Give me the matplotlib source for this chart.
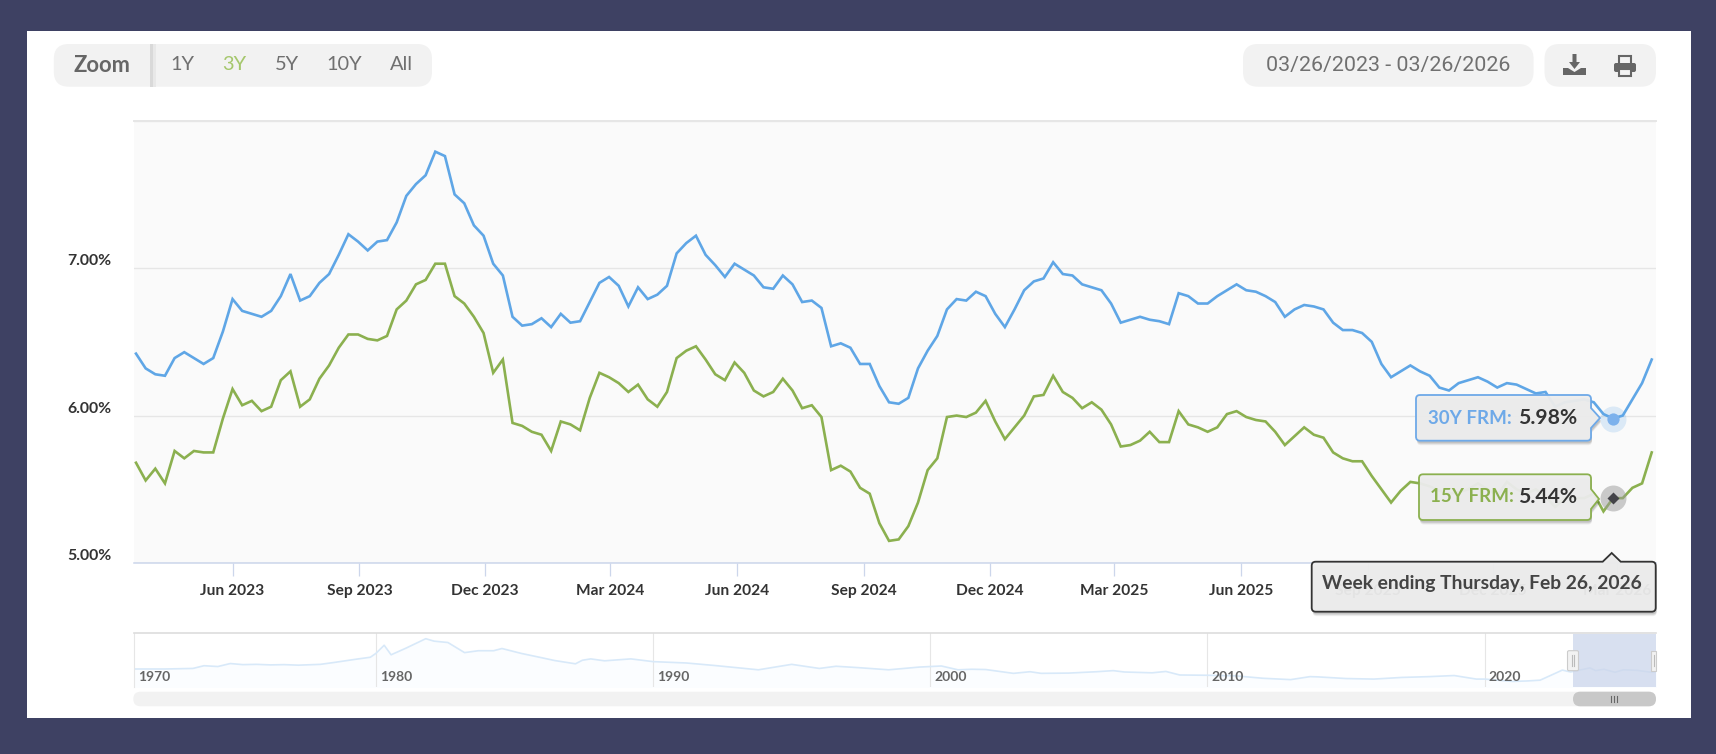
import numpy as np
import pandas as pd
import matplotlib
matplotlib.use("Agg")
import matplotlib.pyplot as plt
from matplotlib.path import Path
from matplotlib.patches import PathPatch, Rectangle, FancyBboxPatch, Polygon

# ---------- data ----------
frm30 = [6.42,6.32,6.28,6.27,6.39,6.43,6.39,6.35,6.39,6.57,6.79,6.71,6.69,6.67,6.71,6.81,6.96,6.78,6.81,6.90,6.96,7.09,7.23,7.18,7.12,7.18,7.19,
         7.31,7.49,7.57,7.63,7.79,7.76,7.50,7.44,7.29,7.22,7.03,6.95,6.67,6.61,6.62,6.66,6.60,6.69,6.63,6.64,6.77,6.90,6.94,6.88,6.74,6.87,
         6.79,6.82,6.88,7.10,7.17,7.22,7.09,7.02,6.94,7.03,6.99,6.95,6.87,6.86,6.95,6.89,6.77,6.78,6.73,6.47,6.49,6.46,6.35,6.35,6.20,6.09,6.08,
         6.12,6.32,6.44,6.54,6.72,6.79,6.78,6.84,6.81,6.69,6.60,6.72,6.85,6.91,6.93,7.04,6.96,6.95,6.89,6.87,6.85,6.76,6.63,6.65,6.67,6.65,
         6.64,6.62,6.83,6.81,6.76,6.76,6.81,6.85,6.89,6.85,6.84,6.81,6.77,6.67,6.72,6.75,6.74,6.72,6.63,6.58,6.58,6.56,6.50,6.35,6.26,6.30,6.34,
         6.30,6.27,6.19,6.17,6.22,6.24,6.26,6.23,6.19,6.22,6.21,6.18,6.15,6.16,6.06,6.09,6.10,6.11,6.09,6.01,5.98,6.00,6.11,6.22,6.38]
frm15 = [5.68,5.56,5.64,5.54,5.76,5.71,5.76,5.75,5.75,5.98,6.18,6.07,6.10,6.03,6.06,6.24,6.30,6.06,6.11,6.25,6.34,6.46,6.55,6.55,6.52,6.51,6.54,
         6.72,6.78,6.89,6.92,7.03,7.03,6.81,6.76,6.67,6.56,6.29,6.38,5.95,5.93,5.89,5.87,5.76,5.96,5.94,5.90,6.12,6.29,6.26,6.22,6.16,6.21,
         6.11,6.06,6.16,6.39,6.44,6.47,6.38,6.28,6.24,6.36,6.29,6.17,6.13,6.16,6.25,6.17,6.05,6.07,5.99,5.63,5.66,5.62,5.51,5.47,5.27,5.15,5.16,
         5.25,5.41,5.63,5.71,5.99,6.00,5.99,6.02,6.10,5.96,5.84,5.92,6.00,6.13,6.14,6.27,6.16,6.12,6.05,6.09,6.04,5.94,5.79,5.80,5.83,5.89,
         5.82,5.82,6.03,5.94,5.92,5.89,5.92,6.01,6.03,5.99,5.97,5.96,5.89,5.80,5.86,5.92,5.87,5.85,5.75,5.71,5.69,5.69,5.59,5.50,5.41,5.49,5.55,
         5.54,5.52,5.49,5.47,5.48,5.50,5.54,5.50,5.46,5.55,5.50,5.47,5.50,5.45,5.38,5.44,5.44,5.44,5.47,5.35,5.44,5.44,5.51,5.54,5.75]
weeks = pd.date_range("2023-03-23", periods=len(frm30), freq="7D")
hover_date = pd.Timestamp("2026-02-26")
x_tick_dates = pd.to_datetime(["2023-06-01","2023-09-01","2023-12-01","2024-03-01","2024-06-01","2024-09-01",
                               "2024-12-01","2025-03-01","2025-06-01","2025-09-01","2025-12-01","2026-03-01"])
x_tick_labels = ["Jun 2023","Sep 2023","Dec 2023","Mar 2024","Jun 2024","Sep 2024",
                 "Dec 2024","Mar 2025","Jun 2025","Sep 2025","Dec 2025","Mar 2026"]
y_ticks = [5, 6, 7, 8]
y_tick_labels = ["5.00%", "6.00%", "7.00%", ""]

nav_years = [1971.3,1972.4,1973.4,1973.8,1974.3,1974.75,1975.2,1975.7,1976.2,1976.7,1977.2,1978,1978.5,1979.3,1979.8,
             1980,1980.3,1980.55,1981.1,1981.8,1982.1,1982.6,1983.2,1983.7,1984.25,1984.55,1985.25,1985.95,1986.45,
             1987.2,1987.45,1987.75,1988.25,1989.2,1990,1991.2,1992.2,1993.8,1995,1996,1996.6,1997.4,1998.5,1999.6,
             2000.4,2001,2001.5,2002,2003,2003.6,2004,2005,2006,2006.6,2007,2008,2008.5,2009,2010,2011,2012,2013,
             2013.7,2014,2015,2016,2017,2018,2018.9,2019.7,2020,2021,2021.5,2022,2022.5,2022.8,2023.1,2023.8,2024,
             2024.3,2024.7,2025,2025.5,2026,2026.2]
nav_rates = [7.3,7.3,7.5,8.5,8.2,9.3,8.9,9.0,8.8,8.9,8.7,9.0,9.7,10.9,11.6,
             13,16,12.5,15,18.4,17.5,17,13.3,14,14,14.8,13,11.5,10.4,
             9.2,10.5,11,10.3,11,10,9.5,8.6,7,9,7.5,8.3,7.8,7,8,
             8.4,7,7.2,7.1,5.7,6.3,5.7,5.8,6.3,6.7,6.2,5.9,6.4,5.1,5.0,4.8,3.9,3.4,
             4.5,4.4,3.8,3.6,4.2,4.5,4.9,3.6,3.6,2.75,2.9,3.2,5.5,6.9,6.2,7.7,6.7,
             7.2,6.1,7,6.8,6.1,6.3]
nav_ticks = [1980, 1990, 2000, 2010, 2020]
nav_labels = ["1970", "1980", "1990", "2000", "2010", "2020"]
zoom_labels = ["1Y", "3Y", "5Y", "10Y", "All"]

# ---------- style ----------
W, H = 1716, 754
BG = "#3e4163"
BLUE = "#5fa6e6"
GREEN = "#8bb04f"
FONT = ["Lato", "DejaVu Sans"]
plt.rcParams["font.family"] = FONT


def axes_box(x0, y0, x1, y1):
    return [x0 / W, 1 - y1 / H, (x1 - x0) / W, (y1 - y0) / H]


fig = plt.figure(figsize=(W / 100, H / 100), dpi=100, facecolor=BG)

# background panel
bg = fig.add_axes([0, 0, 1, 1], zorder=0)
bg.set_xlim(0, W); bg.set_ylim(H, 0); bg.axis("off")
bg.add_patch(Rectangle((26.5, 31), 1664.5, 687, fc="white", ec="none"))

# ---------- main chart ----------
ax = fig.add_axes(axes_box(134.4, 120.7, 1656, 563), zorder=1, facecolor="#fafafa")
ax.plot(weeks, frm30, color=BLUE, lw=1.9, solid_joinstyle="miter", zorder=3)
ax.plot(weeks, frm15, color=GREEN, lw=1.9, solid_joinstyle="miter", zorder=3)
ax.set_xlim(weeks[0] - pd.Timedelta(days=1.16), weeks[-1] + pd.Timedelta(days=3.1))
ax.set_ylim(5, 8)
for s in ("left", "right"):
    ax.spines[s].set_visible(False)
ax.spines["top"].set_color("#e6e6e6"); ax.spines["top"].set_linewidth(1.4)
ax.spines["bottom"].set_color("#ccd6eb"); ax.spines["bottom"].set_linewidth(1.1)
ax.set_yticks(y_ticks, y_tick_labels)
ax.grid(axis="y", color="#e6e6e6", lw=1.0, zorder=1)
ax.tick_params(axis="y", length=0, pad=48.5, labelsize=11.4, labelcolor="#333333")
for lab in ax.get_yticklabels():
    lab.set_ha("left"); lab.set_va("bottom"); lab.set_fontweight("bold")
ax.set_xticks(x_tick_dates, x_tick_labels)
ax.tick_params(axis="x", length=9.2, width=0.9, color="#ccd6eb", pad=6.2, labelsize=11.2, labelcolor="#333333")
for lab in ax.get_xticklabels():
    lab.set_fontweight("bold")

# hover markers
ih = list(weeks).index(hover_date)
ax.plot([weeks[ih]], [frm30[ih]], "o", ms=18.7, mfc=BLUE, mec="none", alpha=0.2, zorder=4, clip_on=False)
ax.plot([weeks[ih]], [frm30[ih]], "o", ms=8.8, mfc="#7cb1ec", mec="none", zorder=5)
ax.plot([weeks[ih]], [frm15[ih]], "o", ms=18.7, mfc="#9a9a9a", mec="none", alpha=0.5, zorder=4)
ax.plot([weeks[ih]], [frm15[ih]], "D", ms=6.4, mfc="#434348", mec="none", zorder=5)

# ---------- navigator ----------
nav = fig.add_axes(axes_box(134.4, 632.7, 1656, 687), zorder=1, facecolor="white")
nav.fill_between(nav_years, nav_rates, 0, color="#fbfdff", lw=0, zorder=1)
nav.plot(nav_years, nav_rates, color="#d8e9f9", lw=1.2, zorder=2)
nav.set_xlim(1971.29, 2026.18)
nav.set_ylim(0.7, 20.6)
for s in ("right", "bottom"):
    nav.spines[s].set_visible(False)
nav.spines["top"].set_color("#dddddd"); nav.spines["top"].set_linewidth(1.2)
nav.spines["left"].set_color("#e6e6e6"); nav.spines["left"].set_linewidth(0.8)
nav.set_xticks(nav_ticks); nav.set_yticks([])
nav.set_xticklabels([])
nav.grid(axis="x", color="#e6e6e6", lw=0.8, zorder=0)
nav.tick_params(length=0)
for yr, label in zip([1971.29] + nav_ticks, nav_labels):
    nav.annotate(label, (yr, 0), xycoords=("data", "axes fraction"), xytext=(3.0, 3), textcoords="offset points",
                 fontsize=10, color="#666666", fontweight="bold", va="bottom", ha="left", zorder=6)

# ---------- overlay furniture ----------
ov = fig.add_axes([0, 0, 1, 1], zorder=5)
ov.set_xlim(0, W); ov.set_ylim(H, 0); ov.axis("off"); ov.patch.set_alpha(0)


def pill(x0, y0, x1, y1, r, fc, ec="none", lw=0, z=2, alpha=None):
    ov.add_patch(FancyBboxPatch((x0 + r, y0 + r), x1 - x0 - 2 * r, y1 - y0 - 2 * r,
                                boxstyle=f"round,pad={r},rounding_size={r}", fc=fc, ec=ec, lw=lw, zorder=z,
                                alpha=alpha, mutation_aspect=1))


def callout(x0, y0, x1, y1, r, tail, side):
    """Rounded box with a small pointer on its right or top side."""
    c3 = Path.CURVE3
    v = [(x0 + r, y0)]; k = [Path.MOVETO]
    if side == "top":
        tx, ty = tail
        v += [(tx - 9, y0), (tx, ty), (tx + 9, y0)]; k += [Path.LINETO] * 3
    v += [(x1 - r, y0), (x1, y0), (x1, y0 + r)]; k += [Path.LINETO, c3, c3]
    if side == "right":
        tx, ty = tail
        v += [(x1, ty - 10), (tx, ty), (x1, ty + 10)]; k += [Path.LINETO] * 3
    v += [(x1, y1 - r), (x1, y1), (x1 - r, y1), (x0 + r, y1), (x0, y1), (x0, y1 - r),
          (x0, y0 + r), (x0, y0), (x0 + r, y0)]
    k += [Path.LINETO, c3, c3, Path.LINETO, c3, c3, Path.LINETO, c3, c3]
    return Path(v, k)


def bubble(x0, y0, x1, y1, tail, side, edge):
    p = callout(x0, y0, x1, y1, 4, tail, side)
    for d, a in ((4.5, 0.06), (3.5, 0.08), (2.5, 0.10)):
        q = Path(p.vertices + np.array([1.0, d]), p.codes)
        ov.add_patch(PathPatch(q, fc="black", ec="none", alpha=a, zorder=6))
    ov.add_patch(PathPatch(p, fc="#eeeeee", ec="none", alpha=0.95, zorder=7))
    ov.add_patch(PathPatch(p, fc="none", ec=edge, lw=1.3, zorder=8))


# toolbar
pill(53.8, 44, 432, 86.7, 15, "#f2f2f2")
ov.add_patch(Rectangle((150, 44), 2.5, 42.7, fc="#d9d9d9", ec="none", zorder=3))
ov.add_patch(Rectangle((152.5, 44), 3, 42.7, fc="#e8e8e8", ec="none", zorder=3))
ov.text(101.8, 65, "Zoom", fontsize=15.8, fontweight="bold", color="#666666", ha="center", va="center", zorder=4)
for cx, label, col in zip([182, 234, 287, 344, 401], zoom_labels, ["#707070", "#a5c76c", "#707070", "#707070", "#707070"]):
    ov.text(cx, 65, label, fontsize=14.4, color=col, ha="center", va="center", zorder=4, fontweight="normal")
pill(1243, 44, 1533.6, 86.7, 15, "#f2f2f2")
ov.text(1388, 65.5, "03/26/2023 - 03/26/2026", fontsize=15.4, color="#707070", ha="center", va="center", zorder=4,
        family=["Roboto", "DejaVu Sans"], fontweight="normal")
pill(1544.5, 44, 1656, 86.7, 15, "#f2f2f2")
# download icon
ICON = "#666666"
ov.add_patch(Polygon([(1572.5, 54), (1576.5, 54), (1576.5, 62), (1580, 62), (1574.5, 69), (1569, 62), (1572.5, 62)],
                     fc=ICON, ec="none", zorder=4))
ov.add_patch(Polygon([(1563, 68), (1568, 68), (1574.5, 72), (1581, 68), (1586, 68), (1586, 75), (1563, 75)],
                     fc=ICON, ec="none", zorder=4))
# printer icon
ov.add_patch(Rectangle((1619, 55.5), 12, 9, fc="#f2f2f2", ec=ICON, lw=1.5, zorder=4))
pill(1614, 63, 1636, 72, 2, ICON, z=4)
ov.add_patch(Rectangle((1619, 69), 12, 7, fc="#f2f2f2", ec=ICON, lw=1.5, zorder=5))

# navigator selection, handles and scrollbar
ov.add_patch(Rectangle((1573, 633.5), 83, 53.5, fc="#ccd6eb", ec="none", alpha=0.75, zorder=3))
pill(1567.5, 650.7, 1578.5, 670.7, 1.5, "#f2f2f2", ec="#cccccc", lw=0.8, z=4)
ov.plot([1571.8, 1571.8], [655, 666], color="#bbbbbb", lw=0.8, zorder=5)
ov.plot([1574.2, 1574.2], [655, 666], color="#bbbbbb", lw=0.8, zorder=5)
ov.add_patch(Rectangle((1651, 650.7), 5, 20, fc="#f2f2f2", ec="#cccccc", lw=0.8, zorder=4))
ov.plot([1654, 1654], [655, 666], color="#bbbbbb", lw=0.8, zorder=5)
pill(133.3, 691.7, 1656, 706.3, 7.3, "#f2f2f2")
pill(1573, 691.7, 1656, 706.3, 7.3, "#c8c8c8", z=3)
for dx in (-3, 0, 3):
    ov.plot([1614 + dx, 1614 + dx], [696, 702], color="#666666", lw=0.8, zorder=4)

# tooltips
bubble(1416, 395, 1591, 440.7, (1600, 418), "right", "#6ea9e8")
ov.text(1428, 418, "30Y FRM:", fontsize=13.5, color="#6ea9e8", fontweight="bold", va="center", ha="left", zorder=9)
ov.text(1518, 418, f"{frm30[ih]:.2f}%", fontsize=15.2, color="#333333", fontweight="bold", va="center", ha="left", zorder=9)
bubble(1419, 474.3, 1591, 520, (1599, 499), "right", GREEN)
ov.text(1430, 497, "15Y FRM:", fontsize=13.5, color=GREEN, fontweight="bold", va="center", ha="left", zorder=9)
ov.text(1518, 497, f"{frm15[ih]:.2f}%", fontsize=15.2, color="#333333", fontweight="bold", va="center", ha="left", zorder=9)
bubble(1311.7, 561.7, 1655.7, 611.7, (1611.7, 553), "top", "#333333")
ov.text(1321.7, 583, f"Week ending Thursday, {hover_date:%b} {hover_date.day}, {hover_date.year}", fontsize=13.9, color="#444444",
        fontweight="bold", va="center", ha="left", zorder=9)

fig.savefig("out.png", dpi=100, facecolor=BG)
